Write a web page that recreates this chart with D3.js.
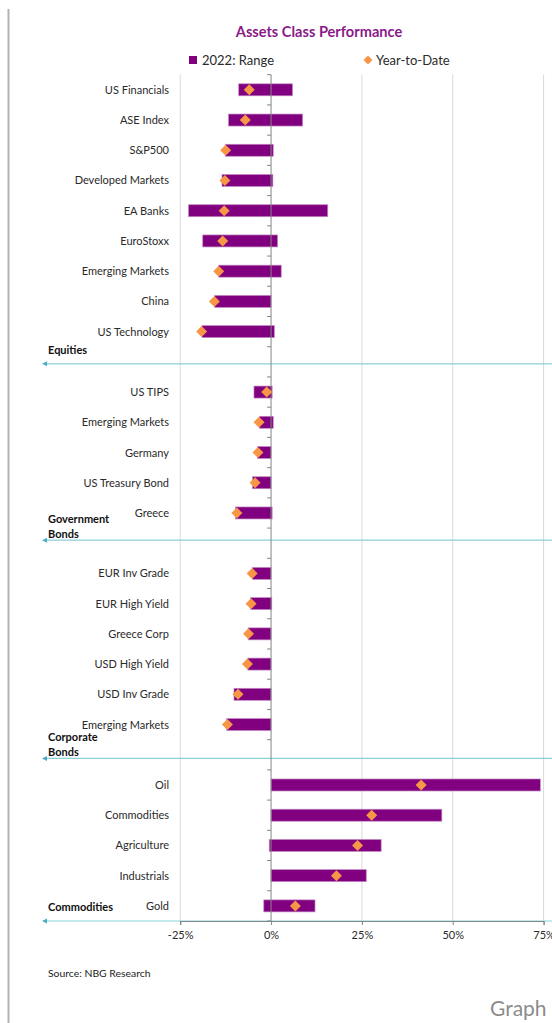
<!DOCTYPE html>
<html>
<head>
<meta charset="utf-8">
<script src="https://cdn.jsdelivr.net/npm/d3@7"></script>
<style>
  body { margin: 0; background: #fff; }
  svg { display: block; }
  text { font-family: Lato, "Open Sans", sans-serif; }
</style>
</head>
<body>
<svg id="chart" width="552" height="1023"></svg>
<script>
// Row labels, top to bottom; empty strings are the spacer rows between asset groups
const labels = [
  "US Financials", "ASE Index", "S&P500", "Developed Markets", "EA Banks",
  "EuroStoxx", "Emerging Markets", "China", "US Technology", "",
  "US TIPS", "Emerging Markets", "Germany", "US Treasury Bond", "Greece", "",
  "EUR Inv Grade", "EUR High Yield", "Greece Corp", "USD High Yield",
  "USD Inv Grade", "Emerging Markets", "",
  "Oil", "Commodities", "Agriculture", "Industrials", "Gold"
];

// 2022 range (low / high), in %
const rangeLow = [
  -8.9, -11.7, -12.6, -13.5, -22.7, -18.8, -14.4, -15.5, -19.0, null,
  -4.7, -3.2, -3.7, -5.1, -9.8, null,
  -5.1, -5.6, -6.3, -6.4, -10.2, -12.2, null,
  0, 0, -0.5, 0, -2.0
];
const rangeHigh = [
  5.9, 8.7, 0.6, 0.5, 15.6, 1.8, 2.8, 0, 0.9, null,
  0.3, 0.6, 0, 0, 0.3, null,
  0, 0.2, 0, 0, 0, 0, null,
  74.1, 47.0, 30.3, 26.2, 12.1
];

// Year-to-date performance, in %
const ytd = [
  -6.0, -7.1, -12.5, -12.7, -12.9, -13.3, -14.4, -15.6, -19.1, null,
  -1.2, -3.3, -3.6, -4.4, -9.4, null,
  -5.2, -5.5, -6.2, -6.5, -9.1, -12.0, null,
  41.3, 27.7, 23.8, 18.0, 6.7
];

// Asset groups: caption lines and the spacer row that closes each group (-1 = bottom)
const groupCaptions = [["Equities"], ["Government", "Bonds"], ["Corporate", "Bonds"], ["Commodities"]];
const groupEndRow = [9, 15, 22, -1];

const xTicks = [-25, 0, 25, 50, 75];
const xDomain = [-25, 75];

const svg = d3.select("#chart");
const W = 552;

const purple = "#800080";
const orange = "#f79646";
const ruleBlue = "#8ccfdd";

const x = d3.scaleLinear().domain(xDomain).range([180.2, 543.6]);
const y = d3.scaleBand().domain(d3.range(labels.length)).range([74.7, 921]).paddingInner(0).paddingOuter(0);
const barH = 12;

// outer frame line on the left
svg.append("line")
  .attr("x1", 8.5).attr("x2", 8.5).attr("y1", 9).attr("y2", 1023)
  .attr("stroke", "#b3b3b3").attr("stroke-width", 2);

// title
svg.append("text")
  .attr("x", 319).attr("y", 37)
  .attr("text-anchor", "middle")
  .attr("font-size", 14.6).attr("font-weight", "bold")
  .attr("fill", "#8b1a89")
  .text("Assets Class Performance");

// legend
const legend = svg.append("g");
legend.append("rect").attr("x", 189).attr("y", 56).attr("width", 8).attr("height", 8).attr("fill", purple);
legend.append("text").attr("x", 202).attr("y", 64.5).attr("font-size", 13).attr("fill", "#2a2a2a").text("2022: Range");
legend.append("path").attr("d", "M0,-4.5L4.5,0L0,4.5L-4.5,0Z").attr("transform", "translate(368,60)").attr("fill", orange);
legend.append("text").attr("x", 376).attr("y", 64.5).attr("font-size", 13).attr("fill", "#2a2a2a").text("Year-to-Date");

// vertical gridlines
svg.append("g").selectAll("line")
  .data(xTicks.filter(d => d !== 0))
  .join("line")
  .attr("x1", d => x(d)).attr("x2", d => x(d))
  .attr("y1", y.range()[0]).attr("y2", y.range()[1])
  .attr("stroke", "#d9d9d9").attr("stroke-width", 1);

// group separator rules with arrowheads on the left
const ruleY = groupEndRow.map((r, i) => {
  const nudge = [2, -3, 3.7, 0][i];
  return r < 0 ? y.range()[1] : y(r) + y.bandwidth() / 2 + nudge;
});
const rules = svg.append("g");
rules.selectAll("line").data(ruleY).join("line")
  .attr("x1", 44).attr("x2", W)
  .attr("y1", d => d).attr("y2", d => d)
  .attr("stroke", ruleBlue).attr("stroke-width", 1.2);
rules.selectAll("path").data(ruleY).join("path")
  .attr("d", d => `M42,${d}L47,${d - 2.5}L47,${d + 2.5}Z`)
  .attr("fill", "#4bacc6");

// group captions
const caps = svg.append("g");
groupCaptions.forEach((lines, i) => {
  const base = ruleY[i] - (lines.length > 1 ? 2.5 : 10);
  lines.forEach((t, j) => {
    caps.append("text")
      .attr("x", 48)
      .attr("y", base - (lines.length - 1 - j) * 15)
      .attr("font-size", 11).attr("font-weight", "bold").attr("fill", "#111")
      .text(t);
  });
});

// category labels
svg.append("g").selectAll("text")
  .data(labels.map((l, i) => ({ l, i })).filter(d => d.l))
  .join("text")
  .attr("x", 169)
  .attr("y", d => y(d.i) + y.bandwidth() / 2 + 4)
  .attr("text-anchor", "end")
  .attr("font-size", 11).attr("fill", "#2a2a2a")
  .text(d => d.l);

// range bars
const rows = d3.range(labels.length).filter(i => rangeLow[i] !== null);
svg.append("g").selectAll("rect")
  .data(rows)
  .join("rect")
  .attr("x", i => x(rangeLow[i]))
  .attr("width", i => Math.max(0, x(rangeHigh[i]) - x(rangeLow[i])))
  .attr("y", i => y(i) + (y.bandwidth() - barH) / 2)
  .attr("height", barH)
  .attr("fill", purple)
  .attr("stroke", "#c58ac5").attr("stroke-width", 0.7);

// zero line with category ticks
const zero = svg.append("g");
zero.append("line")
  .attr("x1", x(0)).attr("x2", x(0))
  .attr("y1", y.range()[0]).attr("y2", y.range()[1])
  .attr("stroke", "#868686").attr("stroke-width", 1);
zero.selectAll("line.tk")
  .data(d3.range(labels.length + 1))
  .join("line").attr("class", "tk")
  .attr("x1", x(0) - 4).attr("x2", x(0))
  .attr("y1", i => y.range()[0] + i * y.step())
  .attr("y2", i => y.range()[0] + i * y.step())
  .attr("stroke", "#868686").attr("stroke-width", 1);

// year-to-date markers
svg.append("g").selectAll("path")
  .data(rows)
  .join("path")
  .attr("d", "M0,-5.5L5.5,0L0,5.5L-5.5,0Z")
  .attr("transform", i => `translate(${x(ytd[i])},${y(i) + y.bandwidth() / 2})`)
  .attr("fill", orange);

// bottom value axis
const xAxis = svg.append("g")
  .attr("transform", `translate(0,${y.range()[1]})`)
  .call(d3.axisBottom(x).tickValues(xTicks).tickSize(4).tickPadding(6).tickFormat(d => d + "%"));
xAxis.select(".domain").attr("stroke", "#868686");
xAxis.selectAll(".tick line").attr("stroke", "#868686");
xAxis.selectAll(".tick text")
  .attr("font-size", 11).attr("fill", "#2a2a2a")
  .attr("font-family", "Lato, 'Open Sans', sans-serif");

// source note
svg.append("text")
  .attr("x", 48).attr("y", 977)
  .attr("font-size", 10.4).attr("fill", "#222")
  .text("Source: NBG Research");

svg.append("text")
  .attr("x", 490).attr("y", 1016)
  .attr("font-size", 21).attr("fill", "#8c8c8c")
  .text("Graph");
</script>
</body>
</html>
